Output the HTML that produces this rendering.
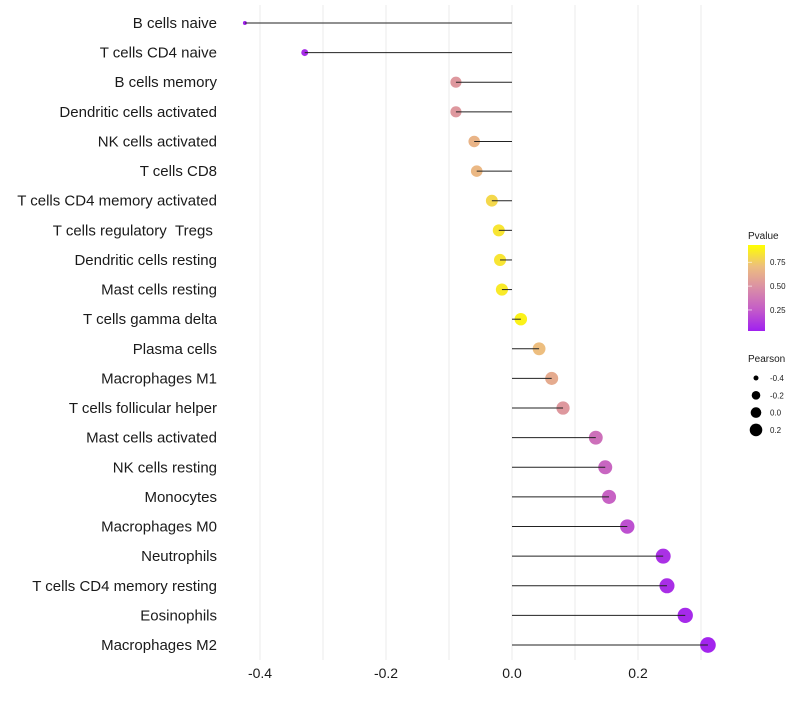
<!DOCTYPE html>
<html><head><meta charset="utf-8"><style>
body{margin:0;background:#fff;font-family:"Liberation Sans",sans-serif;}
</style></head><body>
<svg id="chart" width="800" height="700" xmlns="http://www.w3.org/2000/svg" font-family="Liberation Sans, sans-serif"></svg>
<script>
const categories=["B cells naive","T cells CD4 naive","B cells memory","Dendritic cells activated","NK cells activated","T cells CD8","T cells CD4 memory activated","T cells regulatory \u00a0Tregs\u00a0","Dendritic cells resting","Mast cells resting","T cells gamma delta","Plasma cells","Macrophages M1","T cells follicular helper","Mast cells activated","NK cells resting","Monocytes","Macrophages M0","Neutrophils","T cells CD4 memory resting","Eosinophils","Macrophages M2"];
const pearson=[-0.424,-0.329,-0.089,-0.089,-0.060,-0.056,-0.032,-0.021,-0.019,-0.016,0.014,0.043,0.063,0.081,0.133,0.148,0.154,0.183,0.240,0.246,0.275,0.311];
const pvalue=[0.01,0.05,0.55,0.55,0.7,0.72,0.85,0.9,0.9,0.92,0.95,0.75,0.65,0.55,0.35,0.3,0.28,0.2,0.07,0.06,0.04,0.02];
const xTicks=[-0.4,-0.2,0.0,0.2];
const xGrid=[-0.4,-0.3,-0.2,-0.1,0,0.1,0.2,0.3];
const legendP=[0.75,0.5,0.25];
const legendR=[-0.4,-0.2,0.0,0.2];

const svg=document.getElementById('chart');
const NS='http://www.w3.org/2000/svg';
const X=v=>512+v*630;
const Y=i=>23+i*(622/21);
const R=v=>Math.sqrt(Math.max(2,33+72*v))+0.4;
const stops=[[0,[160,32,240]],[0.25,[196,92,200]],[0.5,[218,142,166]],[0.75,[237,190,127]],[1,[255,255,0]]];
function col(p){for(let k=1;k<stops.length;k++){if(p<=stops[k][0]){const a=stops[k-1],b=stops[k];const t=(p-a[0])/(b[0]-a[0]);const c=a[1].map((v,j)=>Math.round(v+(b[1][j]-v)*t));return `rgb(${c})`;}}return 'rgb(255,255,0)';}
function mk(tag,at,txt){const e=document.createElementNS(NS,tag);for(const k in at)e.setAttribute(k,at[k]);if(txt!=null)e.textContent=txt;svg.appendChild(e);return e;}

xGrid.forEach(v=>{const g=mk('line',{x1:X(v),x2:X(v),y1:5,y2:660,stroke:'#ebebeb','stroke-width':1});

});
xTicks.forEach(v=>{const t=mk('text',{x:X(v),y:678,'text-anchor':'middle','font-size':14,fill:'#1a1a1a'},v.toFixed(1));

});
categories.forEach((c,i)=>{
const t=mk('text',{x:217,y:Y(i)+5,'text-anchor':'end','font-size':15,fill:'#1a1a1a'},c);


const d=mk('circle',{cx:X(pearson[i]),cy:Y(i),r:R(pearson[i]),fill:col(pvalue[i])});


const l=mk('line',{x1:X(0),x2:X(pearson[i]),y1:Y(i),y2:Y(i),stroke:'#222','stroke-width':1});


});
const defs=mk('defs',{});
const lg=document.createElementNS(NS,'linearGradient');lg.setAttribute('id','pg');lg.setAttribute('x1','0');lg.setAttribute('y1','1');lg.setAttribute('x2','0');lg.setAttribute('y2','0');
stops.forEach(s=>{const st=document.createElementNS(NS,'stop');st.setAttribute('offset',s[0]);st.setAttribute('stop-color',col(s[0]));lg.appendChild(st);});
defs.appendChild(lg);
const lt=mk('text',{x:748,y:239,'font-size':10,fill:'#1a1a1a'},'Pvalue');


const cb=mk('rect',{x:748,y:245,width:17,height:86,fill:'url(#pg)'});


const PY=p=>331-(p-0.03)/(0.93-0.03)*86;
legendP.forEach(p=>{const t=mk('text',{x:770,y:PY(p)+3,'font-size':8,fill:'#1a1a1a'},p.toFixed(2));


const tk=mk('line',{x1:748,x2:752,y1:PY(p),y2:PY(p),stroke:'#fff','stroke-width':0.6});

});
const st=mk('text',{x:748,y:362,'font-size':10,fill:'#1a1a1a'},'Pearson');


legendR.forEach((v,k)=>{const cy=378+k*17.3;
const c=mk('circle',{cx:756,cy:cy,r:[2.5,4.3,5.3,6.3][k],fill:'#000'});


const t=mk('text',{x:770,y:cy+3,'font-size':8,fill:'#1a1a1a'},v.toFixed(1));

});
</script>
</body></html>
